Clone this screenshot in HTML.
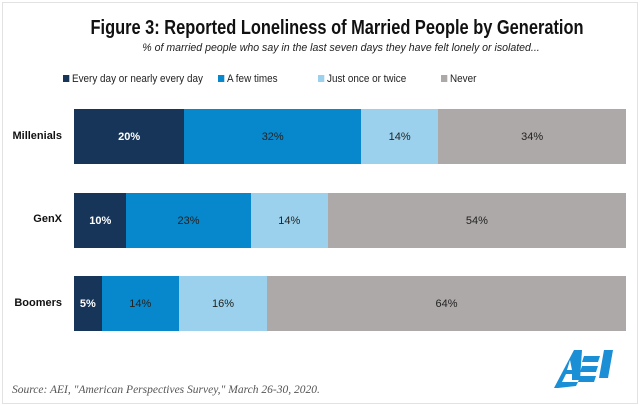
<!DOCTYPE html>
<html><head><meta charset="utf-8"><style>
body{margin:0;width:640px;height:405px;background:#fff;position:relative;overflow:hidden;font-family:"Liberation Sans",sans-serif}
.frame{position:absolute;left:2px;top:2px;width:634px;height:400px;border:1px solid #e2e2e2}
.t{position:absolute;white-space:nowrap;transform:translateX(-50%)}
.bar{position:absolute;left:74px;width:552px;height:55px;display:flex}
.bar div{height:100%;display:flex;align-items:center;justify-content:center;font-size:11px;color:#222}
.d{background:#163558;color:#fff!important;font-weight:bold}
.b{background:#0888cc}.l{background:#9bd1ec}.g{background:#ada9a8}
.lab{position:absolute;right:578px;font-size:11px;font-weight:bold;color:#111}
.leg{position:absolute;top:73px;font-size:11px;color:#222;transform:scaleX(0.9);transform-origin:left center;white-space:nowrap}
.leg i{display:inline-block;width:7px;height:7px;margin-right:3px;vertical-align:0}
</style></head><body>
<div class="frame"></div>
<div class="t" style="top:17px;left:337px;font-size:20px;font-weight:bold;color:#111;transform:translateX(-50%) scaleX(0.82)">Figure 3: Reported Loneliness of Married People by Generation</div>
<div class="t" style="top:42px;left:341px;font-size:11px;font-style:italic;color:#222;transform:translateX(-50%) scaleX(0.96)">% of married people who say in the last seven days they have felt lonely or isolated...</div>
<div class="leg" style="left:63px"><i style="background:#163558"></i>Every day or nearly every day</div>
<div class="leg" style="left:218px"><i style="background:#0888cc"></i>A few times</div>
<div class="leg" style="left:318px"><i style="background:#9bd1ec"></i>Just once or twice</div>
<div class="leg" style="left:441px"><i style="background:#ada9a8"></i>Never</div>
<div class="lab" style="top:130px">Millenials</div>
<div class="bar" style="top:109px"><div class="d" style="width:20%">20%</div><div class="b" style="width:32%">32%</div><div class="l" style="width:14%">14%</div><div class="g" style="width:34%">34%</div></div>
<div class="lab" style="top:213px">GenX</div>
<div class="bar" style="top:193px"><div class="d" style="width:9.5%">10%</div><div class="b" style="width:22.5%">23%</div><div class="l" style="width:14%">14%</div><div class="g" style="width:54%">54%</div></div>
<div class="lab" style="top:297px">Boomers</div>
<div class="bar" style="top:276px"><div class="d" style="width:5%">5%</div><div class="b" style="width:14%">14%</div><div class="l" style="width:16%">16%</div><div class="g" style="width:65%">64%</div></div>
<div style="position:absolute;left:12px;top:384px;font-family:'Liberation Serif',serif;font-style:italic;font-size:11.5px;color:#555">Source: AEI, "American Perspectives Survey," March 26-30, 2020.</div>
<svg style="position:absolute;left:552px;top:348px" width="68" height="42" viewBox="0 0 68 42">
<g fill="#1a8fd6">
<polygon points="2,40 22,2 30,2 28,32 20,32 20,26 14,26 10,34 26,34 24,38 6,40"/>
<polygon points="32,8 48,8 46,14 30,14"/>
<polygon points="30,18 46,18 44,24 28,24"/>
<polygon points="28,28 44,28 42,34 26,34"/>
<polygon points="52,2 61,2 56,30 47,30"/>
</g><polygon points="18,12 20,22 15,22" fill="#fff"/></svg>
</body></html>
